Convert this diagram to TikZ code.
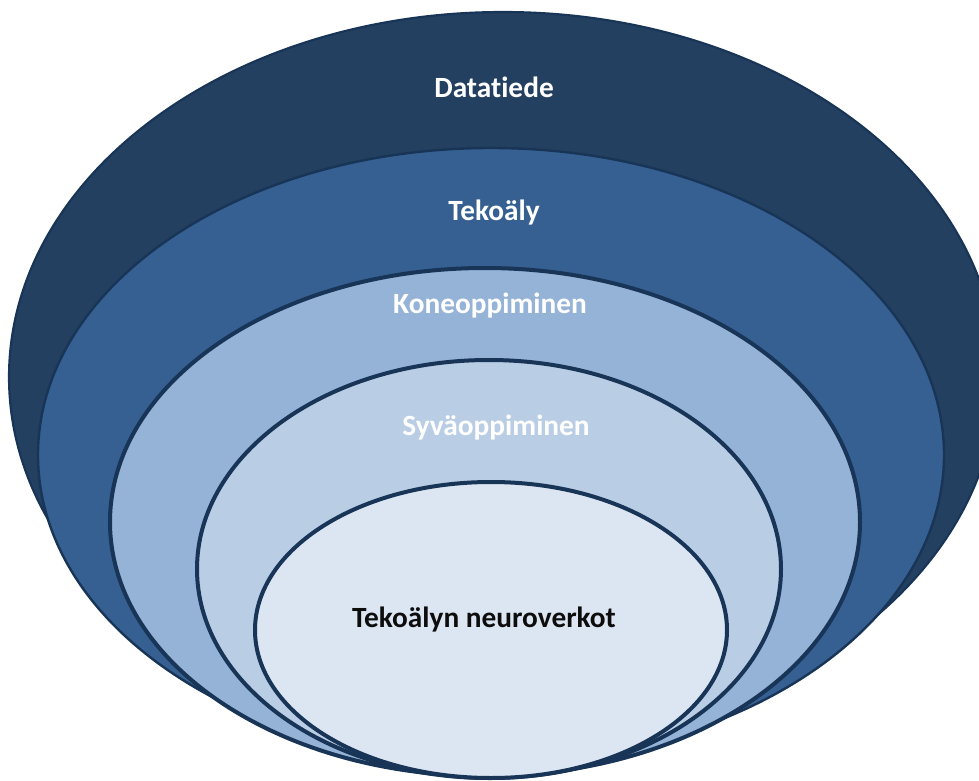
\documentclass[tikz,border=0pt]{standalone}
\usepackage{fontspec}
\setmainfont{Carlito}[Ligatures=NoCommon]
\definecolor{dsnavy}{RGB}{36,64,97}
\definecolor{aiblue}{RGB}{54,96,146}
\definecolor{mlblue}{RGB}{149,179,215}
\definecolor{dlblue}{RGB}{185,205,229}
\definecolor{nnblue}{RGB}{220,230,242}
\definecolor{rimline}{RGB}{24,52,86}
\usetikzlibrary{shapes.geometric}

\begin{document}
\begin{tikzpicture}[x=0.75pt, y=-0.75pt,
  ring/.style={ellipse, draw=rimline, inner sep=0pt},
  tag/.style={anchor=base, font=\fontsize{22}{26}\selectfont\bfseries, text=white}]
  \useasboundingbox (0,0) rectangle (979,781);
  \clip (0,0) rectangle (979,781);

  % Datatiede
  \node[ring, line width=1.6pt, fill=dsnavy, minimum width=741pt, minimum height=547.5pt] (ds) at (503,377) {};
  % Tekoaly
  \node[ring, line width=1.8pt, fill=aiblue, minimum width=679.5pt, minimum height=460.5pt] (ai) at (491,455) {};
  % Koneoppiminen
  \node[ring, line width=3pt, fill=mlblue, minimum width=562.5pt, minimum height=381pt] (ml) at (485,522) {};
  % Syvaoppiminen
  \node[ring, line width=3pt, fill=dlblue, minimum width=438pt, minimum height=313.5pt] (dl) at (489,569) {};
  % neuroverkot
  \node[ring, line width=3pt, fill=nnblue, minimum width=354pt, minimum height=222pt] (nn) at (491,630) {};

  % labels
  \node[tag] (dsText) at (494,98) {Datatiede};
  \node[tag] (aiText) at (494,221) {Tekoäly};
  \node[tag] (mlText) at (490,313) {Koneoppiminen};
  \node[tag] (dlText) at (496,435) {Syväoppiminen};
  \node[tag, text=black!95] (nnText) at (484,627) {Tekoälyn neuroverkot};
\end{tikzpicture}
\end{document}
